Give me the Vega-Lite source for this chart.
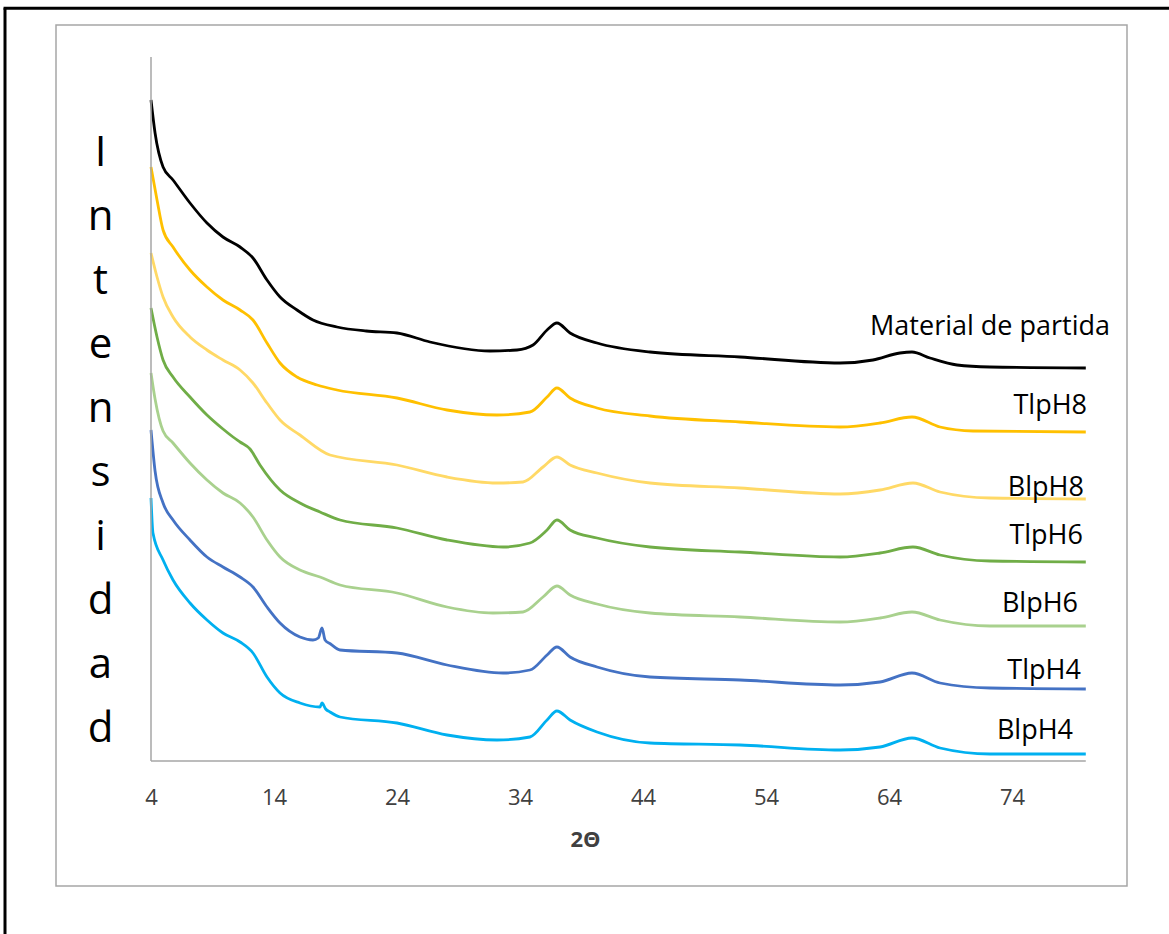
{
  "$schema": "https://vega.github.io/schema/vega-lite/v6.json",
  "width": 1071,
  "height": 861,
  "autosize": "none",
  "padding": {"left": 56, "top": 25, "right": 42, "bottom": 48},
  "background": "white",
  "config": {
    "view": {"stroke": "#a6a6a6", "strokeWidth": 1.5},
    "font": "Open Sans",
    "axisX": {
      "domain": false, "ticks": false, "grid": false,
      "offset": -125,
      "labelFontSize": 22, "labelColor": "#404040", "labelPadding": 36,
      "labelBaseline": "middle", "labelFlush": false, "labelOverlap": false,
      "titleFontSize": 22, "titleFontWeight": "bold", "titleColor": "#404040",
      "titleX": 529, "titleY": 78, "titleBaseline": "middle", "titleAlign": "center"
    },
    "axisY": {
      "domain": false, "ticks": false, "labels": false, "grid": false,
      "titleAngle": 0, "titleFontSize": 42, "titleFontWeight": "normal", "titleColor": "#000000",
      "titleLineHeight": 64, "titleX": 44, "titleY": 127, "titleAlign": "center", "titleBaseline": "middle"
    }
  },
  "datasets": {
    "xrd": [
      {"s":"Material de partida","x":4,"v":661},{"s":"Material de partida","x":4.33,"v":628},{"s":"Material de partida","x":4.98,"v":594},{"s":"Material de partida","x":5.79,"v":581},{"s":"Material de partida","x":7.17,"v":558},{"s":"Material de partida","x":8.55,"v":538},{"s":"Material de partida","x":9.85,"v":524},{"s":"Material de partida","x":11.24,"v":514},{"s":"Material de partida","x":12.29,"v":503},{"s":"Material de partida","x":13.43,"v":481},{"s":"Material de partida","x":14.49,"v":464},{"s":"Material de partida","x":15.87,"v":451},{"s":"Material de partida","x":17.17,"v":441},{"s":"Material de partida","x":19.12,"v":434},{"s":"Material de partida","x":21.5,"v":430},{"s":"Material de partida","x":24,"v":428},{"s":"Material de partida","x":26.68,"v":419},{"s":"Material de partida","x":31.56,"v":410},{"s":"Material de partida","x":33.76,"v":411},{"s":"Material de partida","x":35.06,"v":416},{"s":"Material de partida","x":36.2,"v":431},{"s":"Material de partida","x":37,"v":438},{"s":"Material de partida","x":38.07,"v":428},{"s":"Material de partida","x":40.26,"v":418},{"s":"Material de partida","x":44.57,"v":409},{"s":"Material de partida","x":51.89,"v":404},{"s":"Material de partida","x":60.02,"v":398},{"s":"Material de partida","x":62.7,"v":401},{"s":"Material de partida","x":64.89,"v":408},{"s":"Material de partida","x":65.87,"v":409},{"s":"Material de partida","x":67.33,"v":403},{"s":"Material de partida","x":69.53,"v":396},{"s":"Material de partida","x":72.21,"v":394},{"s":"Material de partida","x":80,"v":393},
      {"s":"TlpH8","x":4,"v":594},{"s":"TlpH8","x":4.49,"v":561},{"s":"TlpH8","x":4.98,"v":531},{"s":"TlpH8","x":5.79,"v":514},{"s":"TlpH8","x":7.17,"v":491},{"s":"TlpH8","x":8.55,"v":474},{"s":"TlpH8","x":9.85,"v":461},{"s":"TlpH8","x":11.24,"v":451},{"s":"TlpH8","x":12.29,"v":441},{"s":"TlpH8","x":13.43,"v":418},{"s":"TlpH8","x":14.49,"v":398},{"s":"TlpH8","x":15.87,"v":384},{"s":"TlpH8","x":17.5,"v":376},{"s":"TlpH8","x":19.12,"v":371},{"s":"TlpH8","x":24,"v":363},{"s":"TlpH8","x":28.07,"v":351},{"s":"TlpH8","x":32.13,"v":346},{"s":"TlpH8","x":34.81,"v":349},{"s":"TlpH8","x":36.2,"v":364},{"s":"TlpH8","x":37,"v":373},{"s":"TlpH8","x":38.07,"v":363},{"s":"TlpH8","x":40.26,"v":353},{"s":"TlpH8","x":44.57,"v":345},{"s":"TlpH8","x":51.89,"v":339},{"s":"TlpH8","x":60.02,"v":334},{"s":"TlpH8","x":63.27,"v":338},{"s":"TlpH8","x":65.87,"v":344},{"s":"TlpH8","x":68.15,"v":334},{"s":"TlpH8","x":70.83,"v":330},{"s":"TlpH8","x":80,"v":329},
      {"s":"BlpH8","x":4,"v":508},{"s":"BlpH8","x":4.49,"v":484},{"s":"BlpH8","x":4.98,"v":464},{"s":"BlpH8","x":5.79,"v":444},{"s":"BlpH8","x":7.17,"v":424},{"s":"BlpH8","x":8.55,"v":411},{"s":"BlpH8","x":9.85,"v":401},{"s":"BlpH8","x":11.24,"v":391},{"s":"BlpH8","x":12.29,"v":378},{"s":"BlpH8","x":13.43,"v":358},{"s":"BlpH8","x":14.49,"v":341},{"s":"BlpH8","x":16.11,"v":326},{"s":"BlpH8","x":18.55,"v":306},{"s":"BlpH8","x":24,"v":296},{"s":"BlpH8","x":28.07,"v":284},{"s":"BlpH8","x":32.13,"v":278},{"s":"BlpH8","x":34.24,"v":279},{"s":"BlpH8","x":35.87,"v":294},{"s":"BlpH8","x":37,"v":304},{"s":"BlpH8","x":38.07,"v":296},{"s":"BlpH8","x":40.26,"v":288},{"s":"BlpH8","x":44.57,"v":278},{"s":"BlpH8","x":51.89,"v":273},{"s":"BlpH8","x":60.02,"v":267},{"s":"BlpH8","x":63.27,"v":271},{"s":"BlpH8","x":65.95,"v":278},{"s":"BlpH8","x":68.15,"v":269},{"s":"BlpH8","x":72.21,"v":263},{"s":"BlpH8","x":80,"v":262},
      {"s":"TlpH6","x":4,"v":453},{"s":"TlpH6","x":4.49,"v":424},{"s":"TlpH6","x":4.98,"v":401},{"s":"TlpH6","x":5.79,"v":384},{"s":"TlpH6","x":7.17,"v":364},{"s":"TlpH6","x":8.55,"v":346},{"s":"TlpH6","x":9.85,"v":332},{"s":"TlpH6","x":10.67,"v":324},{"s":"TlpH6","x":11.24,"v":319},{"s":"TlpH6","x":12.05,"v":312},{"s":"TlpH6","x":12.86,"v":296},{"s":"TlpH6","x":14.49,"v":271},{"s":"TlpH6","x":16.11,"v":258},{"s":"TlpH6","x":17.74,"v":249},{"s":"TlpH6","x":19.37,"v":241},{"s":"TlpH6","x":24,"v":233},{"s":"TlpH6","x":28.07,"v":221},{"s":"TlpH6","x":32.62,"v":214},{"s":"TlpH6","x":34.81,"v":218},{"s":"TlpH6","x":36.2,"v":231},{"s":"TlpH6","x":37,"v":241},{"s":"TlpH6","x":38.07,"v":231},{"s":"TlpH6","x":40.26,"v":223},{"s":"TlpH6","x":44.57,"v":214},{"s":"TlpH6","x":51.89,"v":209},{"s":"TlpH6","x":60.02,"v":204},{"s":"TlpH6","x":63.27,"v":208},{"s":"TlpH6","x":65.95,"v":214},{"s":"TlpH6","x":68.15,"v":206},{"s":"TlpH6","x":72.21,"v":200},{"s":"TlpH6","x":80,"v":199},
      {"s":"BlpH6","x":4,"v":388},{"s":"BlpH6","x":4.33,"v":362},{"s":"BlpH6","x":4.98,"v":330},{"s":"BlpH6","x":5.79,"v":318},{"s":"BlpH6","x":7.17,"v":298},{"s":"BlpH6","x":8.55,"v":281},{"s":"BlpH6","x":9.85,"v":268},{"s":"BlpH6","x":11.24,"v":258},{"s":"BlpH6","x":12.29,"v":244},{"s":"BlpH6","x":13.43,"v":221},{"s":"BlpH6","x":14.49,"v":204},{"s":"BlpH6","x":16.11,"v":191},{"s":"BlpH6","x":17.74,"v":184},{"s":"BlpH6","x":19.37,"v":176},{"s":"BlpH6","x":24,"v":168},{"s":"BlpH6","x":28.07,"v":154},{"s":"BlpH6","x":31.8,"v":148},{"s":"BlpH6","x":34.24,"v":149},{"s":"BlpH6","x":35.87,"v":164},{"s":"BlpH6","x":37,"v":175},{"s":"BlpH6","x":38.07,"v":166},{"s":"BlpH6","x":40.26,"v":157},{"s":"BlpH6","x":44.57,"v":148},{"s":"BlpH6","x":51.89,"v":144},{"s":"BlpH6","x":60.02,"v":139},{"s":"BlpH6","x":63.27,"v":143},{"s":"BlpH6","x":65.87,"v":149},{"s":"BlpH6","x":68.15,"v":141},{"s":"BlpH6","x":72.21,"v":135},{"s":"BlpH6","x":80,"v":135},
      {"s":"TlpH4","x":4,"v":331},{"s":"TlpH4","x":4.33,"v":290},{"s":"TlpH4","x":4.98,"v":258},{"s":"TlpH4","x":5.79,"v":241},{"s":"TlpH4","x":7.17,"v":221},{"s":"TlpH4","x":8.55,"v":204},{"s":"TlpH4","x":9.85,"v":194},{"s":"TlpH4","x":11.24,"v":184},{"s":"TlpH4","x":12.29,"v":174},{"s":"TlpH4","x":13.43,"v":154},{"s":"TlpH4","x":14.49,"v":138},{"s":"TlpH4","x":16.11,"v":124},{"s":"TlpH4","x":17.17,"v":121},{"s":"TlpH4","x":17.6,"v":123},{"s":"TlpH4","x":17.9,"v":133},{"s":"TlpH4","x":18.15,"v":121},{"s":"TlpH4","x":18.6,"v":117},{"s":"TlpH4","x":19.37,"v":111},{"s":"TlpH4","x":24,"v":108},{"s":"TlpH4","x":28.07,"v":96},{"s":"TlpH4","x":32.62,"v":88},{"s":"TlpH4","x":34.81,"v":91},{"s":"TlpH4","x":36.2,"v":106},{"s":"TlpH4","x":37,"v":114},{"s":"TlpH4","x":38.07,"v":104},{"s":"TlpH4","x":40.26,"v":94},{"s":"TlpH4","x":44.57,"v":84},{"s":"TlpH4","x":51.89,"v":81},{"s":"TlpH4","x":60.02,"v":76},{"s":"TlpH4","x":63.27,"v":79},{"s":"TlpH4","x":65.87,"v":88},{"s":"TlpH4","x":68.15,"v":78},{"s":"TlpH4","x":72.21,"v":73},{"s":"TlpH4","x":80,"v":72},
      {"s":"BlpH4","x":4,"v":263},{"s":"BlpH4","x":4.16,"v":228},{"s":"BlpH4","x":4.98,"v":201},{"s":"BlpH4","x":5.79,"v":181},{"s":"BlpH4","x":7.17,"v":158},{"s":"BlpH4","x":8.55,"v":141},{"s":"BlpH4","x":9.85,"v":128},{"s":"BlpH4","x":11.24,"v":119},{"s":"BlpH4","x":12.29,"v":108},{"s":"BlpH4","x":13.43,"v":84},{"s":"BlpH4","x":14.49,"v":68},{"s":"BlpH4","x":16.11,"v":58},{"s":"BlpH4","x":17.74,"v":54},{"s":"BlpH4","x":17.9,"v":58},{"s":"BlpH4","x":18.2,"v":52},{"s":"BlpH4","x":18.55,"v":49},{"s":"BlpH4","x":19.37,"v":44},{"s":"BlpH4","x":24,"v":38},{"s":"BlpH4","x":28.07,"v":26},{"s":"BlpH4","x":32.13,"v":21},{"s":"BlpH4","x":34.81,"v":24},{"s":"BlpH4","x":36.2,"v":41},{"s":"BlpH4","x":37,"v":50},{"s":"BlpH4","x":38.07,"v":41},{"s":"BlpH4","x":40.26,"v":29},{"s":"BlpH4","x":44.57,"v":18},{"s":"BlpH4","x":51.89,"v":16},{"s":"BlpH4","x":60.02,"v":11},{"s":"BlpH4","x":63.27,"v":14},{"s":"BlpH4","x":65.87,"v":23},{"s":"BlpH4","x":68.15,"v":13},{"s":"BlpH4","x":72.21,"v":7},{"s":"BlpH4","x":80,"v":7}
    ],
    "labels": [
      {"t":"Material de partida","x":81.97,"v":434.5},
      {"t":"TlpH8","x":80.1,"v":355.5},
      {"t":"BlpH8","x":79.85,"v":273.5},
      {"t":"TlpH6","x":79.77,"v":225.5},
      {"t":"BlpH6","x":79.37,"v":157.5},
      {"t":"TlpH4","x":79.6,"v":90.5},
      {"t":"BlpH4","x":78.96,"v":30.5}
    ]
  },
  "layer": [
    {
      "data": {"name": "xrd"},
      "mark": {"type": "line", "strokeWidth": 2.8, "interpolate": "monotone"},
      "encoding": {
        "x": {
          "field": "x", "type": "quantitative",
          "scale": {"domain": [-3.724, 83.35], "nice": false, "zero": false},
          "axis": {"values": [4, 14, 24, 34, 44, 54, 64, 74], "title": "2Θ"}
        },
        "y": {
          "field": "v", "type": "quantitative",
          "scale": {"domain": [-125, 736], "nice": false, "zero": false},
          "axis": {"title": ["I", "n", "t", "e", "n", "s", "i", "d", "a", "d"]}
        },
        "color": {
          "field": "s", "type": "nominal",
          "scale": {
            "domain": ["Material de partida", "TlpH8", "BlpH8", "TlpH6", "BlpH6", "TlpH4", "BlpH4"],
            "range": ["#000000", "#FFC000", "#FFD966", "#70AD47", "#A9D18E", "#4472C4", "#00B0F0"]
          },
          "legend": null
        }
      }
    },
    {
      "data": {"name": "labels"},
      "mark": {"type": "text", "align": "right", "baseline": "middle", "fontSize": 27, "color": "#000000", "font": "Open Sans"},
      "encoding": {
        "x": {"field": "x", "type": "quantitative", "scale": {"domain": [-3.724, 83.35], "nice": false, "zero": false},
              "axis": {"values": [4, 14, 24, 34, 44, 54, 64, 74], "title": "2Θ"}},
        "y": {"field": "v", "type": "quantitative", "scale": {"domain": [-125, 736], "nice": false, "zero": false},
              "axis": {"title": ["I", "n", "t", "e", "n", "s", "i", "d", "a", "d"]}},
        "text": {"field": "t"}
      }
    },
    {
      "data": {"values": [{}]},
      "mark": {"type": "rule", "color": "#000000", "strokeWidth": 3, "clip": false},
      "encoding": {
        "x": {"datum": -7.87, "type": "quantitative", "scale": {"domain": [-3.724, 83.35], "nice": false, "zero": false},
              "axis": {"values": [4, 14, 24, 34, 44, 54, 64, 74], "title": "2Θ"}},
        "y": {"datum": 752.7, "type": "quantitative", "scale": {"domain": [-125, 736], "nice": false, "zero": false},
              "axis": {"title": ["I", "n", "t", "e", "n", "s", "i", "d", "a", "d"]}},
        "y2": {"datum": -200}
      }
    },
    {
      "data": {"values": [{}]},
      "mark": {"type": "rule", "color": "#000000", "strokeWidth": 3, "clip": false},
      "encoding": {
        "x": {"datum": -7.99, "type": "quantitative", "scale": {"domain": [-3.724, 83.35], "nice": false, "zero": false},
              "axis": {"values": [4, 14, 24, 34, 44, 54, 64, 74], "title": "2Θ"}},
        "x2": {"datum": 90},
        "y": {"datum": 752.7, "type": "quantitative", "scale": {"domain": [-125, 736], "nice": false, "zero": false},
              "axis": {"title": ["I", "n", "t", "e", "n", "s", "i", "d", "a", "d"]}}
      }
    },
    {
      "data": {"values": [{}]},
      "mark": {"type": "rule", "color": "#a6a6a6", "strokeWidth": 1.5},
      "encoding": {
        "x": {"datum": 4, "type": "quantitative", "scale": {"domain": [-3.724, 83.35], "nice": false, "zero": false},
              "axis": {"values": [4, 14, 24, 34, 44, 54, 64, 74], "title": "2Θ"}},
        "y": {"datum": 0, "type": "quantitative", "scale": {"domain": [-125, 736], "nice": false, "zero": false},
              "axis": {"title": ["I", "n", "t", "e", "n", "s", "i", "d", "a", "d"]}},
        "y2": {"datum": 704}
      }
    },
    {
      "data": {"values": [{}]},
      "mark": {"type": "rule", "color": "#a6a6a6", "strokeWidth": 1.5},
      "encoding": {
        "x": {"datum": 4, "type": "quantitative", "scale": {"domain": [-3.724, 83.35], "nice": false, "zero": false},
              "axis": {"values": [4, 14, 24, 34, 44, 54, 64, 74], "title": "2Θ"}},
        "x2": {"datum": 80},
        "y": {"datum": 0, "type": "quantitative", "scale": {"domain": [-125, 736], "nice": false, "zero": false},
              "axis": {"title": ["I", "n", "t", "e", "n", "s", "i", "d", "a", "d"]}}
      }
    }
  ]
}
